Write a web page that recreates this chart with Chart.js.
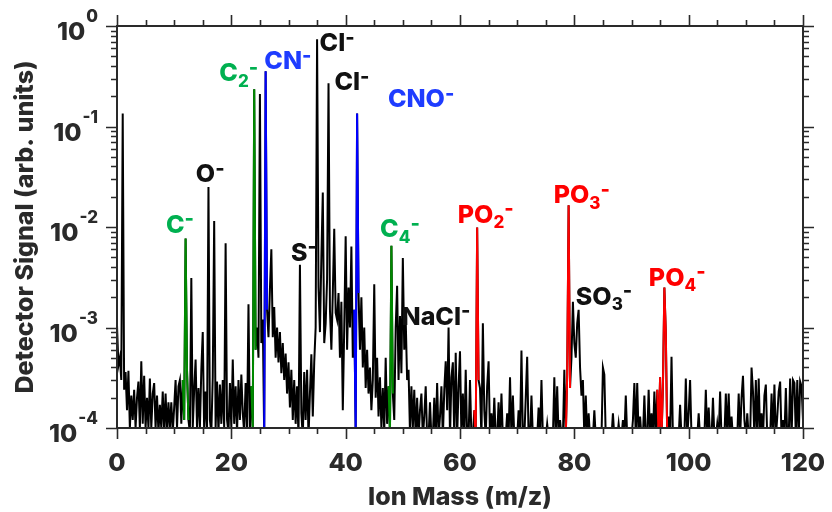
<!DOCTYPE html>
<html><head><meta charset="utf-8">
<script src="https://cdn.jsdelivr.net/npm/chart.js@4.4.1/dist/chart.umd.min.js"></script>
<style>html,body{margin:0;padding:0;background:#fff}</style>
</head><body>
<canvas id="c" width="832" height="512"></canvas>
<script>
// m/z grid: start and step of the recorded spectrum
const massStart = 0, massStep = 0.25;
// detector signal, four samples per unit m/z (m, m+.25, m+.5, m+.75)
const signal = [
1.05e-3,4.2e-4,5.0e-4,3.0e-4,   // 0
0.135,2.4e-4,3.6e-4,1.5e-4,     // 1
3.7e-4,1.0e-4,2.1e-4,1.2e-4,    // 2
2.4e-4,1.0e-4,2.0e-4,2.9e-4,    // 3
1.0e-4,4.6e-4,1.1e-4,3.3e-4,    // 4
1.0e-4,2.0e-4,1.0e-4,3.1e-4,    // 5
1.0e-4,2.2e-4,2.8e-4,1.0e-4,    // 6
2.1e-4,9e-5,1.7e-4,1.0e-4,      // 7
2.3e-4,9e-5,2.2e-4,9e-5,        // 8
1.8e-4,1.0e-4,1.8e-4,9e-5,      // 9
1.6e-4,3.0e-4,1.0e-4,2.6e-4,    // 10
3.0e-4,1.1e-4,3.0e-4,1.2e-4,    // 11
7.7e-3,3.7e-4,1.2e-4,9e-5,      // 12
3.1e-3,1.0e-4,2.4e-4,4.8e-4,    // 13
1.0e-4,2.5e-4,1.0e-4,3.8e-4,    // 14
9.0e-4,9e-5,2.3e-4,1.0e-4,      // 15
0.025,1.2e-4,9e-5,3.2e-4,       // 16
0.0115,1.0e-4,2.9e-4,9e-5,      // 17
2.7e-4,1.1e-4,3.0e-4,1.0e-4,    // 18
0.0069,1.2e-4,9e-5,2.8e-4,      // 19
1.0e-4,4.8e-4,1.1e-4,2.6e-4,    // 20
9e-5,3.0e-4,1.2e-4,3.4e-4,      // 21
1.4e-4,9e-5,2.8e-4,1.0e-4,      // 22
0.0017,9e-5,2.6e-4,1.0e-4,      // 23
0.235,6.0e-4,1.0e-3,5.0e-4,     // 24
0.21,7.0e-4,1.2e-3,8e-5,        // 25
0.355,1.5e-3,8.0e-4,2.4e-3,     // 26
0.006,8.0e-4,1.6e-3,5.0e-4,     // 27
1.0e-3,4.5e-4,9.0e-4,3.5e-4,    // 28
7.0e-4,3.0e-4,5.5e-4,2.2e-4,    // 29
4.5e-4,1.6e-4,3.8e-4,1.2e-4,    // 30
3.0e-4,1.1e-4,2.6e-4,8e-5,      // 31
0.0042,1.4e-4,8e-5,3.6e-4,      // 32
1.2e-4,3.8e-4,8e-5,2.2e-4,      // 33
5.4e-4,1.3e-4,4.5e-4,1.0e-3,    // 34
0.74,2.5e-3,9.0e-4,5.0e-3,      // 35
0.022,7.0e-4,1.1e-3,3.0e-3,     // 36
0.27,1.5e-3,6.0e-4,2.2e-3,      // 37
9.6e-3,1.4e-3,1.2e-3,2.2e-3,    // 38
5.0e-4,1.8e-3,1.5e-4,1.0e-3,    // 39
8.1e-3,6.0e-4,2.5e-3,1.0e-3,    // 40
6.4e-3,5.0e-4,1.5e-3,9e-5,      // 41
0.135,2.2e-3,6.0e-4,2.0e-3,     // 42
4.0e-4,1.0e-3,2.5e-4,6.0e-4,    // 43
2.2e-4,4.0e-4,1.5e-4,3.0e-4,    // 44
2.7e-3,2.0e-4,5.0e-4,1.3e-4,    // 45
3.2e-4,1.0e-4,2.5e-4,9e-5,      // 46
5.0e-4,1.1e-4,2.6e-4,9e-5,      // 47
6.5e-3,2.2e-4,1.2e-4,1.0e-3,    // 48
2.6e-3,3.0e-4,1.3e-3,3.5e-4,    // 49
4.9e-3,6.0e-4,1.2e-3,3.0e-4,    // 50
3.8e-4,9e-5,2.6e-4,1.0e-4,      // 51
2.4e-4,8e-5,2.0e-4,8e-5,        // 52
1.5e-4,2.2e-4,8e-5,1.3e-4,      // 53
2.6e-4,8e-5,8e-5,1.8e-4,        // 54
8e-5,8e-5,2.0e-4,8e-5,          // 55
2.8e-4,8e-5,1.3e-4,2.6e-4,      // 56
8e-5,2.4e-4,4.6e-4,1.5e-4,      // 57
1.0e-3,8e-5,3.2e-4,4.5e-4,      // 58
8e-5,5.6e-4,8e-5,2.6e-4,        // 59
5.8e-4,8e-5,2.2e-4,8e-5,        // 60
3.8e-4,8e-5,8e-5,3.0e-4,        // 61
8e-5,8e-5,1.5e-4,8e-5,          // 62
9.9e-3,3.0e-4,2.5e-4,8e-5,      // 63
1.1e-3,1.5e-4,8e-5,2.6e-4,      // 64
4.6e-4,8e-5,1.4e-4,8e-5,        // 65
2.0e-4,8e-5,8e-5,1.8e-4,        // 66
8e-5,2.2e-4,8e-5,8e-5,          // 67
8e-5,1.4e-4,8e-5,3.2e-4,        // 68
8e-5,2.1e-4,8e-5,8e-5,          // 69
8e-5,1.5e-4,8e-5,5.9e-4,        // 70
8e-5,8e-5,2.0e-4,5.1e-4,        // 71
8e-5,8e-5,2.1e-4,8e-5,          // 72
8e-5,8e-5,8e-5,1.6e-4,          // 73
8e-5,3.0e-4,8e-5,8e-5,          // 74
8e-5,1.1e-4,8e-5,8e-5,          // 75
8e-5,8e-5,3.2e-4,8e-5,          // 76
2.6e-4,8e-5,1.2e-4,8e-5,        // 77
8e-5,3.8e-4,8e-5,3.4e-4,        // 78
0.0165,2.5e-4,5.0e-4,1.8e-3,    // 79
7.0e-4,5.0e-4,1.1e-3,1.5e-3,    // 80
4.0e-4,2.1e-4,3.0e-4,8e-5,      // 81
2.1e-4,8e-5,1.4e-4,8e-5,        // 82
8e-5,8e-5,1.5e-4,8e-5,          // 83
8e-5,8e-5,8e-5,8e-5,            // 84
4.0e-4,3.4e-4,8e-5,8e-5,        // 85
8e-5,8e-5,8e-5,1.4e-4,          // 86
8e-5,8e-5,8e-5,1.1e-4,          // 87
8e-5,8e-5,1.2e-4,8e-5,          // 88
2.1e-4,8e-5,8e-5,8e-5,          // 89
8e-5,1.2e-4,2.8e-4,8e-5,        // 90
2.8e-4,8e-5,1.3e-4,8e-5,        // 91
8e-5,2.1e-4,8e-5,8e-5,          // 92
2.4e-4,8e-5,1.4e-4,8e-5,        // 93
2.3e-4,8e-5,2.4e-4,8e-5,        // 94
3.2e-4,8e-5,2.6e-4,2.5e-3,      // 95
9.0e-4,8e-5,1.3e-4,8e-5,        // 96
5.1e-4,8e-5,8e-5,8e-5,          // 97
8e-5,8e-5,1.7e-4,8e-5,          // 98
8e-5,8e-5,3.1e-4,8e-5,          // 99
1.4e-4,3.0e-4,8e-5,8e-5,        // 100
8e-5,8e-5,8e-5,1.4e-4,          // 101
8e-5,8e-5,8e-5,8e-5,            // 102
2.4e-4,8e-5,1.6e-4,8e-5,        // 103
8e-5,2.0e-4,8e-5,8e-5,          // 104
1.1e-4,8e-5,2.3e-4,8e-5,        // 105
8e-5,8e-5,2.2e-4,8e-5,          // 106
2.2e-4,8e-5,1.3e-4,8e-5,        // 107
8e-5,8e-5,8e-5,2.2e-4,          // 108
8e-5,2.0e-4,3.3e-4,1.2e-4,      // 109
8e-5,1.4e-4,8e-5,8e-5,          // 110
4.0e-4,2.3e-4,8e-5,3.0e-4,      // 111
8e-5,3.1e-4,8e-5,1.4e-4,        // 112
8e-5,2.1e-4,2.7e-4,8e-5,        // 113
8e-5,8e-5,2.2e-4,8e-5,          // 114
2.7e-4,8e-5,1.3e-4,2.3e-4,      // 115
2.9e-4,8e-5,1.2e-4,8e-5,        // 116
2.5e-4,8e-5,8e-5,3.1e-4,        // 117
8e-5,3.0e-4,2.8e-4,8e-5,        // 118
3.0e-4,8e-5,2.9e-4,2.6e-4,      // 119
1.2e-4                          // 120
];
// highlighted peak ranges (m/z)
const greenRanges = [[11.5,12.5],[23.5,24.25],[47.5,48.25]];
const blueRanges  = [[25.75,26.25],[41.5,42.25]];
const redRanges   = [[62.5,63.25],[78.5,79.25],[94.5,96.25]];
// peak annotations
const labelText  = ['C^-','C_2^-','CN^-','Cl^-','Cl^-','O^-','CNO^-','S^-','C_4^-','NaCl^-','PO_2^-','PO_3^-','SO_3^-','PO_4^-'];
const labelMass  = [11.0, 21.3, 29.9, 38.5, 41.1, 16.3, 53.2, 32.7, 49.5, 55.8, 64.5, 81.3, 85.2, 98.0];
const labelValue = [1.08e-2, 0.347, 0.458, 0.692, 0.283, 0.0342, 0.191, 5.7e-3, 9.7e-3, 1.31e-3, 1.36e-2, 2.11e-2, 2.07e-3, 3.21e-3];
const labelColor = ['#00b050','#00b050','#1e3cff','#111','#111','#111','#1e3cff','#111','#00b050','#111','#ff0000','#ff0000','#111','#ff0000'];
// axis ticks
const xTickValues = [0,20,40,60,80,100,120];
const yTickValues = [1e-4,1e-3,1e-2,1e-1,1];
const yTickExp = ['-4','-3','-2','-1','0'];

const mass = signal.map((_, i) => massStart + i * massStep);
const inRanges = (m, rs) => rs.some(r => m >= r[0] - 1e-9 && m <= r[1] + 1e-9);
const pts = mass.map((m, i) => ({x: m, y: signal[i]}));
const sub = rs => mass.map((m, i) => ({x: m, y: inRanges(m, rs) ? signal[i] : null}));

const FONT = 'Inter, Lato, sans-serif';
const W = '800';
const AX = '#2a2a2a';

function drawRich(ctx, str, cx, cy, size, color) {
  const segs = [];
  for (let i = 0; i < str.length; i++) {
    const ch = str[i];
    if ((ch === '_' || ch === '^') && i + 1 < str.length) { segs.push({t: str[i+1], k: ch}); i++; }
    else segs.push({t: ch, k: ''});
  }
  const mainF = W + ' ' + size + 'px ' + FONT;
  const subF = W + ' ' + Math.round(size * 0.68) + 'px ' + FONT;
  const supF = W + ' ' + Math.round(size * 0.8) + 'px ' + FONT;
  const fontOf = s => s.k === '_' ? subF : (s.k === '^' ? supF : mainF);
  let w = 0;
  segs.forEach(s => { ctx.font = fontOf(s); s.w = ctx.measureText(s.t).width; w += s.w; });
  let x = cx - w / 2;
  const base = cy + size * 0.36;
  ctx.fillStyle = color; ctx.textBaseline = 'alphabetic'; ctx.textAlign = 'left';
  segs.forEach(s => {
    ctx.font = fontOf(s);
    let y = base;
    if (s.k === '_') y = base + size * 0.22;
    if (s.k === '^') y = base - size * 0.3;
    ctx.fillText(s.t, x, y);
    x += s.w;
  });
}

const decor = {
  id: 'decor',
  afterDatasetsDraw(chart) {
    const {ctx, chartArea: a, scales: {x, y}} = chart;
    ctx.save();
    ctx.strokeStyle = AX; ctx.lineWidth = 2;
    ctx.strokeRect(a.left, a.top, a.right - a.left, a.bottom - a.top);
    ctx.lineWidth = 1.6;
    ctx.beginPath();
    for (let v = x.min; v <= x.max + 1e-9; v += 5) {
      const px = Math.round(x.getPixelForValue(v)) + 0.5;
      const len = (v % 20 === 0) ? 11 : 6;
      ctx.moveTo(px, a.bottom); ctx.lineTo(px, a.bottom + len);
      ctx.moveTo(px, a.top); ctx.lineTo(px, a.top - len);
    }
    for (let e = -4; e <= 0; e++) {
      for (let k = 1; k <= 9; k++) {
        const v = k * Math.pow(10, e);
        if (v > y.max * 1.0001) break;
        const py = Math.round(y.getPixelForValue(v)) + 0.5;
        const len = k === 1 ? 11 : 6;
        ctx.moveTo(a.left, py); ctx.lineTo(a.left - len, py);
        ctx.moveTo(a.right, py); ctx.lineTo(a.right + len, py);
      }
    }
    ctx.stroke();
    y.ticks.forEach(t => {
      const py = y.getPixelForValue(t.value);
      const exp = yTickExp[yTickValues.indexOf(t.value)];
      ctx.font = W + ' 17px ' + FONT;
      const ew = ctx.measureText(exp).width;
      const right = a.left - 19;
      ctx.fillStyle = AX; ctx.textBaseline = 'alphabetic';
      ctx.textAlign = 'left';
      ctx.fillText(exp, right - ew, py - 4);
      ctx.font = W + ' 25px ' + FONT;
      ctx.textAlign = 'right';
      ctx.fillText('10', right - ew - 1, py + 14);
    });
    labelText.forEach((s, i) => {
      drawRich(ctx, s, x.getPixelForValue(labelMass[i]), y.getPixelForValue(labelValue[i]), 25, labelColor[i]);
    });
    ctx.restore();
  }
};

new Chart(document.getElementById('c'), {
  type: 'line',
  data: {
    datasets: [
      {data: sub(greenRanges), borderColor: '#008a00', borderWidth: 2, pointRadius: 0, spanGaps: false, order: 1},
      {data: sub(blueRanges), borderColor: '#0000ff', borderWidth: 2, pointRadius: 0, spanGaps: false, order: 2},
      {data: sub(redRanges), borderColor: '#ff0000', borderWidth: 2, pointRadius: 0, spanGaps: false, order: 3},
      {data: pts, borderColor: '#000', borderWidth: 2, pointRadius: 0, order: 10}
    ]
  },
  options: {
    responsive: false, animation: false,
    layout: {padding: {top: 26, right: 29, left: 0, bottom: 0}},
    plugins: {legend: {display: false}, tooltip: {enabled: false}},
    elements: {line: {tension: 0, borderJoinStyle: 'miter'}},
    scales: {
      x: {
        type: 'linear', min: 0, max: 120,
        afterBuildTicks: s => { s.ticks = xTickValues.map(v => ({value: v})); },
        afterFit: s => { s.height = 84; s.paddingLeft = 0; s.paddingRight = 0; },
        grid: {display: false, drawTicks: false},
        border: {display: false},
        ticks: {autoSkip: false, maxRotation: 0, padding: 20, color: AX, font: {family: FONT, size: 25, weight: W}},
        title: {display: true, text: 'Ion Mass (m/z)', color: AX, font: {family: FONT, size: 25, weight: W}, padding: {top: 0, bottom: 0}}
      },
      y: {
        type: 'logarithmic', min: 1e-4, max: 1,
        afterBuildTicks: s => { s.ticks = yTickValues.map(v => ({value: v})); },
        afterFit: s => { s.width = 117; s.paddingTop = 0; s.paddingBottom = 0; },
        grid: {display: false, drawTicks: false},
        border: {display: false},
        ticks: {display: false},
        title: {display: true, text: 'Detector Signal (arb. units)', color: AX, font: {family: FONT, size: 25, weight: W}, padding: {top: 10, bottom: 0}}
      }
    }
  },
  plugins: [decor]
});
</script>
</body></html>
